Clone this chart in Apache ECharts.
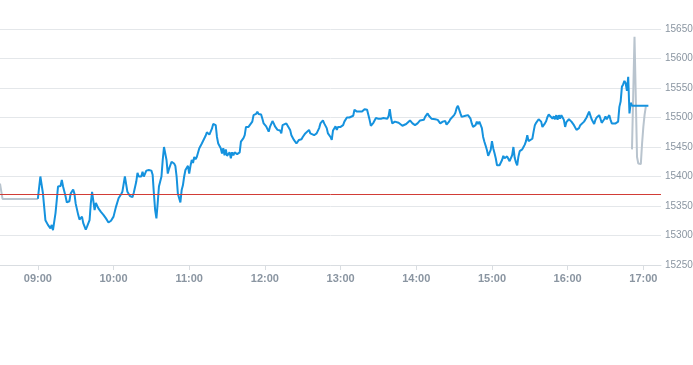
<!DOCTYPE html>
<html>
<head>
<meta charset="utf-8">
<script src="https://cdn.jsdelivr.net/npm/echarts@6/dist/echarts.min.js"></script>
<style>
html,body{margin:0;padding:0;background:#fff;}
#chart{width:693px;height:365px;}
</style>
</head>
<body>
<div id="chart"></div>
<script>
// ---- data ----
var prevClose = 15370;

var preTimes  = ['08:30','08:32','08:40','08:50','09:00'];
var prePrices = [15388, 15362, 15362, 15362, 15362];

var times = [
'09:00','09:02','09:04','09:06','09:08','09:10','09:11','09:12','09:14','09:15','09:16','09:18','09:19','09:20','09:22','09:23','09:25','09:26','09:28','09:29',
'09:30','09:32','09:33','09:35','09:36','09:38','09:39','09:41','09:42','09:43','09:45','09:46','09:48','09:50','09:52','09:54','09:56','09:58',
'10:00','10:02','10:04','10:06','10:07','10:08','10:09','10:11','10:12','10:13','10:15','10:16','10:18','10:19','10:20','10:22','10:23','10:24','10:25','10:26','10:28',
'10:30','10:31','10:32','10:33','10:34','10:35','10:36','10:38','10:39','10:40','10:42','10:43','10:44','10:46','10:48','10:49','10:50','10:51','10:53','10:54','10:55','10:56','10:57','10:59',
'11:00','11:01','11:02','11:03','11:04','11:05','11:06','11:08','11:10','11:11','11:13','11:14','11:16','11:18','11:19','11:21','11:22','11:23','11:25','11:26','11:27','11:28','11:29',
'11:30','11:32','11:33','11:34','11:35','11:36','11:38','11:39','11:40','11:41','11:43','11:44','11:45','11:47','11:48','11:50','11:51','11:52','11:53','11:54','11:55','11:56','11:57','11:58','11:59',
'12:01','12:02','12:03','12:04','12:06','12:07','12:08','12:10','12:11','12:12','12:13','12:14','12:15','12:17','12:18','12:20','12:21','12:22','12:23','12:25','12:26','12:27','12:29',
'12:30','12:31','12:32','12:33','12:35','12:36','12:37','12:39','12:41','12:43','12:44','12:46','12:47','12:49','12:50','12:52','12:53','12:54','12:56','12:57','12:58',
'13:00','13:02','13:03','13:05','13:07','13:08','13:10','13:11','13:12','13:13','13:15','13:17','13:18','13:19','13:21','13:22','13:23','13:24','13:25','13:26','13:27','13:28',
'13:30','13:31','13:32','13:34','13:35','13:37','13:38','13:39','13:40','13:41','13:43','13:44','13:46','13:47','13:49','13:50','13:52','13:53','13:55','13:56','13:57','13:59',
'14:00','14:01','14:03','14:04','14:06','14:07','14:09','14:10','14:12','14:13','14:15','14:17','14:18','14:19','14:21','14:22','14:23','14:24','14:26','14:27','14:28',
'14:30','14:31','14:32','14:33','14:34','14:35','14:36','14:37','14:39','14:40','14:41','14:42','14:43','14:44','14:45','14:47','14:48','14:49','14:50','14:51','14:52','14:53','14:54','14:55','14:56','14:57','14:58','14:59',
'15:00','15:01','15:02','15:03','15:04','15:06','15:07','15:08','15:09','15:10','15:11','15:12','15:14','15:15','15:16','15:17','15:18','15:19','15:20','15:21','15:22','15:24','15:25','15:26','15:27','15:28','15:29',
'15:30','15:32','15:33','15:34','15:35','15:36','15:37','15:38','15:39','15:40','15:42','15:43','15:44','15:45','15:46','15:48','15:49','15:50','15:51','15:52','15:53','15:54','15:55','15:56','15:57','15:58','15:59',
'16:01','16:02','16:03','16:05','16:06','16:07','16:09','16:10','16:11','16:13','16:14','16:15','16:17','16:18','16:19','16:21','16:22','16:23','16:25','16:26','16:27','16:29',
'16:30','16:31','16:33','16:34','16:35','16:36','16:38','16:39','16:40','16:41','16:42','16:43','16:44','16:45','16:46','16:47','16:48','16:49','16:50','16:51',
'16:55','17:00','17:04'
];
var prices = [
15362,15400,15372,15326,15318,15312,15318,15309,15338,15360,15383,15384,15394,15383,15366,15356,15358,15371,15378,15371,
15354,15335,15327,15332,15321,15310,15315,15326,15355,15374,15343,15355,15346,15340,15335,15329,15322,15325,
15332,15349,15363,15370,15374,15376,15400,15374,15374,15367,15365,15372,15391,15406,15400,15400,15408,15400,15405,15410,15411,
15410,15403,15371,15343,15329,15355,15383,15400,15428,15450,15428,15405,15413,15425,15422,15418,15400,15371,15356,15377,15385,15400,15411,15418,
15405,15418,15428,15423,15433,15429,15433,15448,15456,15456,15469,15475,15471,15481,15489,15487,15467,15456,15448,15439,15448,15436,15446,
15435,15441,15431,15441,15436,15441,15438,15435,15441,15459,15465,15470,15484,15484,15485,15493,15504,15501,15506,15510,15506,15507,15505,15498,15490,
15485,15484,15476,15484,15494,15490,15485,15479,15476,15478,15473,15487,15490,15490,15488,15479,15470,15468,15462,15456,15456,15462,15463,
15467,15470,15473,15476,15479,15473,15470,15470,15473,15482,15490,15495,15490,15482,15473,15467,15462,15478,15485,15479,15484,
15484,15487,15493,15500,15500,15501,15503,15513,15513,15510,15510,15510,15510,15514,15513,15510,15496,15486,15488,15491,15493,15499,
15498,15496,15498,15499,15499,15498,15502,15514,15499,15490,15493,15493,15491,15490,15486,15484,15489,15492,15495,15494,15490,15487,
15485,15490,15495,15495,15496,15501,15507,15503,15498,15497,15497,15496,15494,15490,15493,15493,15494,15488,15493,15497,15500,
15504,15508,15516,15520,15517,15507,15501,15500,15503,15504,15504,15503,15498,15490,15484,15487,15493,15489,15493,15491,15482,15467,15459,15452,15445,15435,15437,15445,
15460,15448,15440,15431,15419,15419,15419,15428,15435,15431,15430,15434,15426,15431,15436,15450,15432,15424,15419,15434,15443,15446,15450,15454,15460,15470,15460,
15458,15464,15476,15487,15491,15493,15497,15499,15493,15484,15490,15494,15501,15505,15502,15498,15502,15497,15504,15496,15504,15498,15504,15500,15496,15484,15492,
15497,15496,15493,15487,15484,15479,15482,15487,15484,15493,15490,15500,15510,15507,15497,15489,15496,15500,15504,15498,15491,15497,
15502,15497,15504,15496,15490,15487,15490,15487,15493,15518,15527,15552,15556,15562,15558,15545,15569,15507,15525,15520,
15520,15520,15520
];

var postTimes  = ['16:51','16:53','16:55','16:56','16:57','16:58','16:59','17:00','17:01','17:02'];
var postPrices = [15446, 15637, 15433, 15422, 15420, 15421, 15456, 15484, 15505, 15519];

var xTickLabels = ['09:00','10:00','11:00','12:00','13:00','14:00','15:00','16:00','17:00'];
var yMin = 15250, yMax = 15650, yStep = 50;
var xStart = '08:30', xEnd = '17:14';

// ---- helpers ----
function toMin(s){ var p = s.split(':'); return (+p[0])*60 + (+p[1]); }
function fmt(m){ var h = Math.floor(m/60), mm = Math.round(m%60); return (h<10?'0':'')+h+':'+(mm<10?'0':'')+mm; }
function pairs(ts, vs){ return ts.map(function(t,i){ return [toMin(t), vs[i]]; }); }

var tickVals = xTickLabels.map(toMin);
var labelColor = '#8a95a1';
var font = 'Liberation Sans, Arial, sans-serif';

var chart = echarts.init(document.getElementById('chart'), null, {renderer:'canvas'});
chart.setOption({
  animation: false,
  backgroundColor: '#fff',
  grid: { left: 0, right: 32, top: 29, bottom: 100, containLabel: false, outerBoundsMode: 'none' },
  xAxis: {
    type: 'value',
    min: toMin(xStart),
    max: toMin(xEnd),
    axisLine: { show: true, lineStyle: { color: '#d9dde1', width: 1 } },
    axisTick: { show: true, customValues: tickVals, length: 5, lineStyle: { color: '#d9dde1' } },
    axisLabel: { customValues: tickVals, formatter: function(v){ return fmt(v); },
                 color: labelColor, fontSize: 11, fontFamily: font, fontWeight: 'bold', margin: 8 },
    splitLine: { show: false }
  },
  yAxis: {
    type: 'value',
    position: 'right',
    min: yMin, max: yMax, interval: yStep,
    axisLine: { show: false },
    axisTick: { show: false },
    axisLabel: { color: labelColor, fontSize: 10, fontFamily: font, margin: 4,
                 formatter: function(v){ return String(v); } },
    splitLine: { show: true, lineStyle: { color: '#e4e7ea', width: 1 } }
  },
  series: [
    {
      type: 'line', data: pairs(preTimes, prePrices), showSymbol: false, symbol: 'none',
      lineStyle: { color: '#b9c4ce', width: 2 }, z: 2
    },
    {
      type: 'line', data: pairs(postTimes, postPrices), showSymbol: false, symbol: 'none',
      lineStyle: { color: '#b9c4ce', width: 2 }, z: 2
    },
    {
      type: 'line', data: pairs(times, prices), showSymbol: false, symbol: 'none',
      lineStyle: { color: '#1592de', width: 2 }, z: 3,
      markLine: {
        silent: true, symbol: ['none','none'], label: { show: false },
        lineStyle: { color: '#d23c36', width: 1, type: 'solid' },
        data: [{ yAxis: prevClose }]
      }
    }
  ]
});
</script>
</body>
</html>
